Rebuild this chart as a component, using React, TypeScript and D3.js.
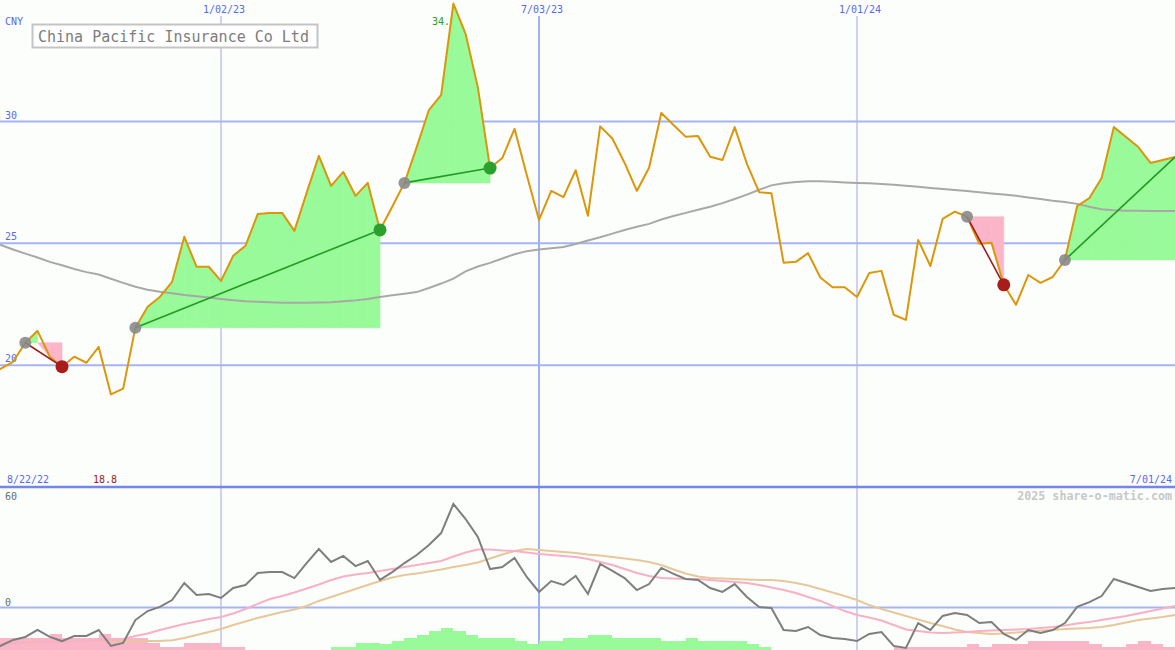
import React from 'react';
import * as d3 from 'd3';

// ---- data (weekly, starting 22 Aug 2022) ----
const START = new Date(2022, 7, 22);

const closes = [
  19.6, 19.86, 20.14, 20.92, 21.41, 20.35, 19.94, 20.35, 20.1, 20.75,
  18.8, 19.04, 21.54, 22.4, 22.8, 23.42, 25.27, 24.04, 24.04, 23.46,
  24.49, 24.9, 26.2, 26.25, 26.25, 25.51, 27.07, 28.59, 27.36, 27.93,
  26.95, 27.48, 25.55, 26.5, 27.48, 28.95, 30.47, 31.09, 34.84, 33.6,
  31.4, 28.09, 28.5, 29.7, 27.8, 25.96, 27.15, 26.9, 28.0, 26.13,
  29.8, 29.3, 28.3, 27.15, 28.1, 30.35, 29.86, 29.37, 29.4, 28.55,
  28.42, 29.77, 28.26, 27.1, 27.06, 24.2, 24.24, 24.6, 23.6, 23.2,
  23.2, 22.8, 23.78, 23.87, 22.07, 21.86, 25.14, 24.07, 26.0, 26.3,
  26.09, 24.98, 25.02, 23.3, 22.48, 23.7, 23.38, 23.62, 24.32, 26.53,
  26.86, 27.68, 29.77, 29.36, 28.95, 28.3, 28.42, 28.54,
];

const movingAvg = [
  25.1, 24.93, 24.75, 24.58, 24.42, 24.24, 24.1, 23.95, 23.82, 23.72,
  23.55, 23.38, 23.22, 23.1, 23.01, 22.95, 22.88, 22.83, 22.78, 22.72,
  22.67, 22.62, 22.6, 22.58, 22.56, 22.56, 22.56, 22.57, 22.58, 22.62,
  22.66, 22.72, 22.8, 22.87, 22.93, 23.0, 23.17, 23.35, 23.55, 23.85,
  24.05, 24.2, 24.38, 24.55, 24.68, 24.75, 24.8, 24.85, 24.97, 25.12,
  25.25, 25.4, 25.55, 25.68, 25.8, 25.98, 26.12, 26.25, 26.38, 26.5,
  26.65, 26.82, 27.0, 27.2, 27.38, 27.47, 27.52, 27.55, 27.55, 27.53,
  27.5, 27.48, 27.47, 27.44, 27.4, 27.36, 27.32, 27.27, 27.23, 27.19,
  27.15, 27.1, 27.05, 27.0, 26.95, 26.88, 26.82, 26.75, 26.7, 26.62,
  26.5, 26.4, 26.36, 26.34, 26.34, 26.33, 26.33, 26.33,
];

const oscillator = [
  -22, -20.4, -17.3, -15.7, -12, -15.7, -17.9, -15.2, -15.2, -12,
  -20.5, -18.9, -6.7, -1.9, 0.3, 4, 13.1, 6.7, 7.2, 5.1,
  10.4, 12, 18.4, 18.9, 18.9, 15.7, 23.7, 31.2, 24.3, 27.5,
  22.1, 24.8, 14.7, 18.9, 23.7, 28, 33.3, 39.7, 55.2, 47.2,
  37.6, 20.5, 21.6, 26.4, 16.3, 8.3, 14.1, 12, 16.8, 7.2,
  23.2, 19.5, 15.7, 9.3, 12.5, 21.1, 17.9, 15.2, 14.7, 10.4,
  8.3, 12.5, 5.6, 0.3, -0.3, -12, -12.5, -10.4, -14.7, -16.3,
  -16.8, -17.9, -14.1, -13.1, -20.5, -21.6, -8.3, -12, -4.5, -2.9,
  -4, -8.3, -7.7, -14.1, -17.3, -12, -13.6, -12, -8.3, 0.3,
  2.9, 6.1, 15.2, 13.1, 10.9, 8.8, 9.9, 10.4,
];

const signalFast = [
  -19.5, -18.9, -18.9, -18.7, -18.4, -18.4, -18.4, -18.1, -17.9, -17.6,
  -17.3, -16.8, -15.2, -13.9, -12, -10.4, -8.8, -7.5, -6.1, -5.1,
  -3.2, -0.8, 1.9, 4.5, 6.1, 8, 10.1, 12.3, 14.7, 16.5,
  17.6, 18.4, 19.5, 20.5, 21.6, 22.7, 23.7, 24.8, 27.2, 29.3,
  30.9, 30.9, 30.4, 30.1, 29.3, 28.5, 28, 27.5, 26.9, 25.9,
  24.3, 22.7, 20.5, 18.4, 16.8, 15.7, 15.5, 15.2, 15.2, 14.7,
  14.1, 13.6, 13.1, 12, 10.7, 9.3, 7.7, 5.6, 3.5, 0.8,
  -1.9, -4, -5.3, -6.9, -9.3, -11.7, -12.5, -13.3, -13.6, -13.3,
  -13.1, -12.5, -12.3, -12, -11.7, -11.5, -10.9, -10.4, -9.6, -8.5,
  -7.7, -6.7, -5.6, -4.5, -3.2, -1.9, -0.5, 0.8,
];

const signalSlow = [
  -19.5, -18.9, -18.9, -18.9, -18.7, -18.4, -18.4, -18.1, -17.9, -17.9,
  -17.9, -17.9, -17.9, -17.9, -17.9, -17.5, -16.3, -14.7, -13.1, -11.5,
  -9.3, -7.5, -5.6, -4, -2.4, -1.1, 0.8, 3.5, 5.6, 7.7,
  9.9, 12, 14.1, 16, 17.3, 18.1, 19.2, 20.3, 21.6, 22.7,
  24, 26.1, 28.3, 30.1, 31.2, 30.7, 30.1, 29.6, 29.1, 28.3,
  27.7, 26.9, 26.1, 25.3, 24.3, 22.7, 20.3, 18.1, 16.5, 15.7,
  15.5, 15.2, 14.9, 14.7, 14.7, 14.1, 13.1, 11.7, 9.9, 8,
  6.1, 4, 1.3, -0.8, -2.7, -4.5, -6.4, -8.3, -9.9, -11.7,
  -13.1, -13.6, -14.1, -13.9, -13.3, -12.8, -12.3, -12, -11.5, -11.2,
  -10.9, -10.4, -9.3, -8, -6.7, -5.9, -5.1, -4,
];

const histogram = [
  -6.4, -6.4, -6.4, -6.4, -6.4, -6.4, -8.4, -6.4, -6.4, -6.4,
  -8.4, -6.4, -6.4, -6.4, -3.6, -1.8, -1.8, -3.6, -3.6, -3.6,
  -1.8, -1.8, 0, 0, 0, 0, 0, 0, 0, 1.8,
  1.8, 3.5, 3.5, 3.2, 4.8, 6.4, 8, 10.1, 11.7, 10.1,
  8, 6.4, 6.4, 6.4, 4.8, 3.2, 4.8, 4.8, 6.4, 6.4,
  8, 8, 6.4, 6.4, 6.4, 6.4, 4.8, 4.8, 6.4, 4.8,
  4.8, 4.8, 4.8, 3.2, 1.6, 0, 0, 0, 0, 0,
  0, 0, 0, 0, 0, -1.8, -1.8, -1.8, -1.8, -1.8,
  -1.8, -3.2, -1.8, -3.2, -3.2, -3.2, -4.8, -4.8, -4.8, -4.8,
  -4.8, -3.2, -1.8, -1.8, -3.2, -4.8, -3.2, -1.8,
];

const tradeEntries = [3, 12, 34, 80, 88];
const tradeExits = [6, 32, 41, 83, 97];
const tradeOpen = [false, false, false, false, true];

const dateTicks = [new Date(2023, 0, 2), new Date(2023, 6, 3), new Date(2024, 0, 1)];
const dateTickLabels = ['1/02/23', '7/03/23', '1/01/24'];
const dateTickMajor = [false, true, false];
const priceTicks = [20, 25, 30];
const indicatorTicks = [60, 0, -20];

const TITLE = 'China Pacific Insurance Co Ltd';
const CURRENCY = 'CNY';
const FIRST_LABEL = '8/22/22';
const LAST_LABEL = '7/01/24';
const MIN_LABEL = '18.8';
const MAX_LABEL = '34.8';
const WATERMARK = '2025 share-o-matic.com';

// ---- layout ----
const W = 1175;
const H = 650;
const SPLIT = 487;
const FONT = "'DejaVu Sans Mono', monospace";

const GREEN_FILL = '#98fa98';
const PINK_FILL = '#fab6c8';

export default function App() {
  const dates = closes.map((_, i) => d3.timeDay.offset(START, i * 7));
  const x = d3.scaleTime().domain([new Date(2023, 0, 2), new Date(2024, 6, 1)]).range([221, 1175]);
  const yP = d3.scaleLinear().domain([20, 30]).range([365.2, 121.5]);
  const yI = d3.scaleLinear().domain([0, 60]).range([607.5, 495]);
  const xs = dates.map((d) => x(d));

  const lineP = d3.line<number>().x((_, i) => xs[i]).y((d) => yP(d));
  const lineI = d3.line<number>().x((_, i) => xs[i]).y((d) => yI(d));
  const poly = d3.line<[number, number]>();

  // trade fills: per segment, green when price is above entry level, pink when below
  const fills: { d: string; c: string }[] = [];
  tradeEntries.forEach((e, t) => {
    const ex = tradeExits[t];
    const base = closes[e];
    for (let k = e; k < ex; k++) {
      const p0 = closes[k];
      const p1 = closes[k + 1];
      const up = p1 >= base;
      const c0 = up ? Math.max(p0, base) : Math.min(p0, base);
      const c1 = up ? Math.max(p1, base) : Math.min(p1, base);
      const pts: [number, number][] = [
        [xs[k], yP(base)],
        [xs[k], yP(c0)],
        [xs[k + 1], yP(c1)],
        [xs[k + 1], yP(base)],
      ];
      fills.push({ d: poly(pts) + 'Z', c: up ? GREEN_FILL : PINK_FILL });
    }
  });

  const bars = histogram.map((h, i) => {
    if (i === 0 || h === 0) return null;
    const x0 = xs[i - 1];
    const x1 = xs[i];
    const hgt = yI(0) - yI(Math.abs(h));
    return (
      <rect key={'b' + i} x={x0} y={H - hgt} width={x1 - x0} height={hgt}
        fill={h > 0 ? GREEN_FILL : PINK_FILL} shapeRendering="crispEdges" />
    );
  });

  return (
    <svg width={W} height={H} style={{ position: 'absolute', left: 0, top: 0, display: 'block' }}
      fontFamily={FONT}>
      <defs>
        <clipPath id="pc"><rect x={0} y={0} width={W} height={SPLIT} /></clipPath>
        <clipPath id="ic"><rect x={0} y={SPLIT} width={W} height={H - SPLIT} /></clipPath>
      </defs>
      <rect x={0} y={0} width={W} height={H} fill="#fcfefc" />

      {/* horizontal price grid */}
      {priceTicks.map((p) => (
        <line key={'hg' + p} x1={0} x2={W} y1={yP(p)} y2={yP(p)} stroke="#a6b4f2" strokeWidth={2} />
      ))}
      {/* indicator zero line */}
      <line x1={0} x2={W} y1={yI(0)} y2={yI(0)} stroke="#a6b4f2" strokeWidth={2} />

      {/* vertical date grid */}
      {dateTicks.map((d, i) => (
        <line key={'vg' + i} x1={x(d)} x2={x(d)} y1={16} y2={H}
          stroke={dateTickMajor[i] ? '#a0b0f2' : '#b0b4e6'} strokeWidth={dateTickMajor[i] ? 2 : 1.2} />
      ))}
      {dateTicks.map((d, i) => (
        <text key={'vt' + i} x={x(d) + 3} y={13} fontSize={10} fill="#5a68f0" textAnchor="middle">
          {dateTickLabels[i]}
        </text>
      ))}

      {/* panel separator */}
      <line x1={0} x2={W} y1={SPLIT} y2={SPLIT} stroke="#7585ec" strokeWidth={2.5} />

      {/* price axis labels */}
      <text x={5} y={25} fontSize={10} fill="#5a68f0">{CURRENCY}</text>
      {priceTicks.map((p) => (
        <text key={'pl' + p} x={5} y={yP(p) - 3} fontSize={10} fill="#5a68f0">{p}</text>
      ))}
      <text x={7} y={483} fontSize={10} fill="#5a68f0">{FIRST_LABEL}</text>
      <text x={93} y={483} fontSize={10} fill="#a01c1c">{MIN_LABEL}</text>
      <text x={1172} y={483} fontSize={10} fill="#5a68f0" textAnchor="end">{LAST_LABEL}</text>
      <text x={432} y={25} fontSize={10} fill="#22a022">{MAX_LABEL}</text>

      {/* indicator labels */}
      {indicatorTicks.map((v) => (
        <text key={'il' + v} x={5} y={yI(v) + (v === 60 ? 5 : v === 0 ? -2 : 4)} fontSize={10}
          fill="#6a6a6a">{v}</text>
      ))}
      <text x={1172} y={500} fontSize={11.7} fontWeight="bold" fill="#c8c8c8" textAnchor="end">{WATERMARK}</text>

      {/* title box */}
      <rect x={32.5} y={24.5} width={285} height={23} fill="#ffffff" stroke="#c4c4c4" strokeWidth={2} />
      <text x={38} y={41.5} fontSize={15} fill="#7c7c7c">{TITLE}</text>

      {/* price panel */}
      <g clipPath="url(#pc)">
        {fills.map((f, i) => (
          <path key={'f' + i} d={f.d} fill={f.c} stroke={f.c} strokeWidth={0.6} />
        ))}
        <path d={lineP(movingAvg) || ''} fill="none" stroke="#a8a8a8" strokeWidth={2} />
        <path d={lineP(closes) || ''} fill="none" stroke="#dc960a" strokeWidth={2} strokeLinejoin="round" />
        {tradeEntries.map((e, t) => {
          const ex = tradeExits[t];
          const win = closes[ex] >= closes[e];
          return (
            <line key={'tl' + t} x1={xs[e]} y1={yP(closes[e])} x2={xs[ex]} y2={yP(closes[ex])}
              stroke={win ? '#239a23' : '#a01c1c'} strokeWidth={1.6} />
          );
        })}
        {tradeEntries.map((e, t) => (
          <circle key={'ce' + t} cx={xs[e]} cy={yP(closes[e])} r={6} fill="#8a8a8a" fillOpacity={0.9} />
        ))}
        {tradeExits.map((ex, t) => {
          if (tradeOpen[t]) return null;
          const win = closes[ex] >= closes[tradeEntries[t]];
          return (
            <circle key={'cx' + t} cx={xs[ex]} cy={yP(closes[ex])} r={6.5}
              fill={win ? '#2ca02c' : '#a81c1c'} />
          );
        })}
      </g>

      {/* indicator panel */}
      <g clipPath="url(#ic)">
        {bars}
        <path d={lineI(signalSlow) || ''} fill="none" stroke="#e6c89a" strokeWidth={2} />
        <path d={lineI(signalFast) || ''} fill="none" stroke="#f8b0c6" strokeWidth={2} />
        <path d={lineI(oscillator) || ''} fill="none" stroke="#7e7e7e" strokeWidth={2} />
      </g>
    </svg>
  );
}
